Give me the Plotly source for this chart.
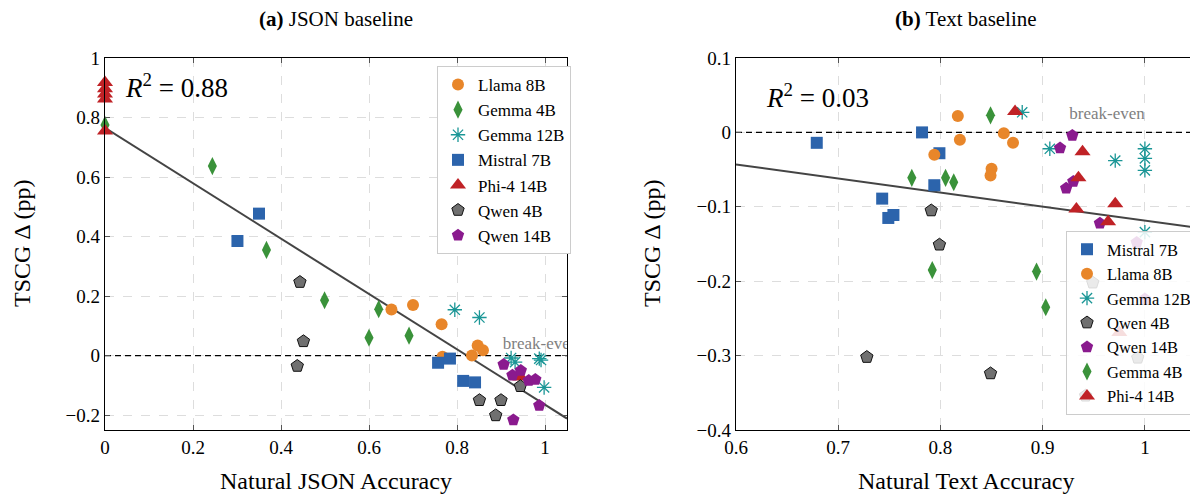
import plotly.graph_objects as go
import numpy as np

# ---------------- data: (a) JSON baseline ----------------
a_llama_x = [0.651, 0.700, 0.765, 0.847, 0.859, 0.834, 0.767]
a_llama_y = [0.155, 0.170, 0.105, 0.034, 0.018, 0.000, -0.004]
a_gemma4_x = [0.0, 0.244, 0.367, 0.499, 0.622, 0.600, 0.691]
a_gemma4_y = [0.775, 0.637, 0.355, 0.186, 0.156, 0.060, 0.067]
a_gemma12_x = [0.795, 0.851, 0.923, 0.932, 0.987, 0.991, 0.998]
a_gemma12_y = [0.154, 0.128, -0.008, -0.022, -0.010, -0.015, -0.107]
a_mistral_x = [0.301, 0.350, 0.757, 0.784, 0.814, 0.841]
a_mistral_y = [0.385, 0.477, -0.024, -0.010, -0.085, -0.090]
a_phi_x = [0.0, 0.0, 0.0, 0.0, 0.0, 0.944]
a_phi_y = [0.918, 0.897, 0.879, 0.862, 0.755, -0.072]
a_qwen4_x = [0.443, 0.451, 0.437, 0.944, 0.851, 0.900, 0.888]
a_qwen4_y = [0.247, 0.048, -0.035, -0.103, -0.150, -0.150, -0.201]
a_qwen14_x = [0.906, 0.926, 0.945, 0.963, 0.978, 0.987, 0.928]
a_qwen14_y = [-0.030, -0.066, -0.050, -0.084, -0.080, -0.168, -0.216]
a_fit = (0.765, -0.93)   # intercept, slope
a_r2 = "0.88"

# ---------------- data: (b) Text baseline ----------------
b_mistral_x = [0.679, 0.782, 0.799, 0.794, 0.743, 0.749, 0.754]
b_mistral_y = [-0.014, 0.000, -0.028, -0.071, -0.089, -0.115, -0.111]
b_llama_x = [0.794, 0.817, 0.819, 0.862, 0.850, 0.849, 0.871]
b_llama_y = [-0.030, 0.022, -0.010, -0.001, -0.049, -0.058, -0.014]
b_gemma12_x = [0.880, 0.907, 0.971, 1.0, 1.0, 1.0, 1.0]
b_gemma12_y = [0.027, -0.022, -0.038, -0.022, -0.035, -0.051, -0.134]
b_qwen4_x = [0.791, 0.799, 0.728, 0.849, 0.949, 0.993, 0.942]
b_qwen4_y = [-0.105, -0.151, -0.302, -0.324, -0.202, -0.303, -0.354]
b_qwen14_x = [0.929, 0.917, 0.930, 0.923, 0.956, 0.992, 1.0]
b_qwen14_y = [-0.004, -0.021, -0.066, -0.075, -0.122, -0.148, -0.224]
b_gemma4_x = [0.849, 0.772, 0.805, 0.813, 0.792, 0.894, 0.903]
b_gemma4_y = [0.023, -0.061, -0.061, -0.067, -0.185, -0.187, -0.235]
b_phi_x = [0.873, 0.939, 0.935, 0.933, 0.971, 0.964, 0.975]
b_phi_y = [0.028, -0.026, -0.061, -0.103, -0.096, -0.120, -0.269]
b_fit = (-0.043, -0.189)  # value at x=0.6, slope
b_r2 = "0.03"

# ---------------- styles ----------------
FONT = "Liberation Serif"
STY = {
    "Llama 8B": dict(symbol="circle", color="#E8862A", size=12, line=dict(width=0)),
    "Gemma 4B": dict(symbol="diamond-tall", color="#3A923A", size=13, line=dict(width=0)),
    "Gemma 12B": dict(symbol="asterisk-open", color="#1A9696", size=12, line=dict(width=1.3, color="#1A9696")),
    "Mistral 7B": dict(symbol="square", color="#2C64AC", size=12, line=dict(width=0)),
    "Phi-4 14B": dict(symbol="triangle-up", color="#C02226", size=14, line=dict(width=0)),
    "Qwen 4B": dict(symbol="pentagon", color="#707070", size=13, line=dict(width=1, color="#111111")),
    "Qwen 14B": dict(symbol="pentagon", color="#8A1A8E", size=13, line=dict(width=0)),
}

fig = go.Figure()

def add(name, xs, ys, xa, ya, legend):
    fig.add_trace(go.Scatter(
        x=xs, y=ys, mode="markers", name=name, marker=STY[name],
        xaxis=xa, yaxis=ya, legend=legend, cliponaxis=False))

# fit lines + break-even reference lines (drawn first)
ax = np.array([0.0, 1.05])
fig.add_trace(go.Scatter(x=ax, y=a_fit[0] + a_fit[1] * ax, mode="lines",
                         line=dict(color="#444444", width=2), showlegend=False,
                         xaxis="x", yaxis="y", hoverinfo="skip"))
bx = np.array([0.6, 1.05])
fig.add_trace(go.Scatter(x=bx, y=b_fit[0] + b_fit[1] * (bx - 0.6), mode="lines",
                         line=dict(color="#444444", width=2), showlegend=False,
                         xaxis="x2", yaxis="y2", hoverinfo="skip"))
fig.add_trace(go.Scatter(x=[0.0, 1.05], y=[0, 0], mode="lines",
                         line=dict(color="black", width=1.3, dash="6px,4px"), showlegend=False,
                         xaxis="x", yaxis="y", hoverinfo="skip"))
fig.add_trace(go.Scatter(x=[0.6, 1.05], y=[0, 0], mode="lines",
                         line=dict(color="black", width=1.3, dash="6px,4px"), showlegend=False,
                         xaxis="x2", yaxis="y2", hoverinfo="skip"))
# break-even labels (clipped by the plot area)
fig.add_trace(go.Scatter(x=[0.904], y=[0.037], mode="text", text=["break-even"],
                         textposition="middle right", cliponaxis=True,
                         textfont=dict(family=FONT, size=17, color="#808080"),
                         showlegend=False, xaxis="x", yaxis="y", hoverinfo="skip"))
fig.add_trace(go.Scatter(x=[0.963], y=[0.024], mode="text", text=["break-even"],
                         textposition="middle center", cliponaxis=True,
                         textfont=dict(family=FONT, size=17, color="#808080"),
                         showlegend=False, xaxis="x2", yaxis="y2", hoverinfo="skip"))

# (a) markers
add("Llama 8B", a_llama_x, a_llama_y, "x", "y", "legend")
add("Gemma 4B", a_gemma4_x, a_gemma4_y, "x", "y", "legend")
add("Gemma 12B", a_gemma12_x, a_gemma12_y, "x", "y", "legend")
add("Mistral 7B", a_mistral_x, a_mistral_y, "x", "y", "legend")
add("Phi-4 14B", a_phi_x, a_phi_y, "x", "y", "legend")
add("Qwen 4B", a_qwen4_x, a_qwen4_y, "x", "y", "legend")
add("Qwen 14B", a_qwen14_x, a_qwen14_y, "x", "y", "legend")

# (b) markers
add("Mistral 7B", b_mistral_x, b_mistral_y, "x2", "y2", "legend2")
add("Llama 8B", b_llama_x, b_llama_y, "x2", "y2", "legend2")
add("Gemma 12B", b_gemma12_x, b_gemma12_y, "x2", "y2", "legend2")
add("Qwen 4B", b_qwen4_x, b_qwen4_y, "x2", "y2", "legend2")
add("Qwen 14B", b_qwen14_x, b_qwen14_y, "x2", "y2", "legend2")
add("Gemma 4B", b_gemma4_x, b_gemma4_y, "x2", "y2", "legend2")
add("Phi-4 14B", b_phi_x, b_phi_y, "x2", "y2", "legend2")

def fmt(v):
    s = ("%g" % v)
    return s.replace("-", "\u2212")

a_xt = [0, 0.2, 0.4, 0.6, 0.8, 1.0]
a_yt = [-0.2, 0, 0.2, 0.4, 0.6, 0.8, 1.0]
b_xt = [0.6, 0.7, 0.8, 0.9, 1.0]
b_yt = [-0.4, -0.3, -0.2, -0.1, 0, 0.1]

# page offset (body margin) -> figure coordinates
OFF = 8
W, H = 1198 - OFF, 497 - OFF

def px(x):
    return (x - OFF) / W

def py(y):
    return 1 - (y - OFF) / H

ydom = [py(430), py(58)]
axis_common = dict(showline=True, linecolor="black", linewidth=1.3, mirror="ticks",
                   ticks="inside", ticklen=5, tickcolor="#555555", tickwidth=1,
                   showgrid=True, gridcolor="#DDDDDD", griddash="dash", gridwidth=1,
                   zeroline=False, automargin=False,
                   tickfont=dict(family=FONT, size=19, color="black"))

ann = dict(xref="paper", yref="paper", showarrow=False, yanchor="middle", xanchor="center")
fig.update_layout(
    width=W, height=H, margin=dict(l=0, r=0, t=0, b=0, autoexpand=False),
    paper_bgcolor="white", plot_bgcolor="white",
    font=dict(family=FONT, color="black"),
    xaxis=dict(domain=[px(105), px(567)], range=[0, 1.05], anchor="y",
               tickvals=a_xt, ticktext=[fmt(v) for v in a_xt], **axis_common),
    yaxis=dict(domain=ydom, range=[-0.25, 1.0], anchor="x",
               tickvals=a_yt, ticktext=[fmt(v) for v in a_yt], **axis_common),
    xaxis2=dict(domain=[px(736), px(1196)], range=[0.6, 1.05], anchor="y2",
                tickvals=b_xt, ticktext=[fmt(v) for v in b_xt], **axis_common),
    yaxis2=dict(domain=ydom, range=[-0.4, 0.1], anchor="x2",
                tickvals=b_yt, ticktext=[fmt(v) for v in b_yt], **axis_common),
    legend=dict(x=px(437), y=py(66), xanchor="left", yanchor="top",
                bgcolor="white", bordercolor="#CCCCCC", borderwidth=1,
                font=dict(family=FONT, size=17), itemwidth=30, tracegroupgap=0),
    legend2=dict(x=px(1066), y=py(231), xanchor="left", yanchor="top",
                 bgcolor="rgba(255,255,255,0.85)", bordercolor="#CCCCCC", borderwidth=1,
                 font=dict(family=FONT, size=16.5), itemwidth=30, tracegroupgap=0),
    showlegend=True,
    annotations=[
        dict(text="<b>(a)</b> JSON baseline", x=px(336), y=py(19), font=dict(family=FONT, size=21), **ann),
        dict(text="<b>(b)</b> Text baseline", x=px(966), y=py(19), font=dict(family=FONT, size=21), **ann),
        dict(text="Natural JSON Accuracy", x=px(336), y=py(481), font=dict(family=FONT, size=24), **ann),
        dict(text="Natural Text Accuracy", x=px(966), y=py(481), font=dict(family=FONT, size=24), **ann),
        dict(text="TSCG \u0394 (pp)", x=px(22), y=py(244), textangle=-90, font=dict(family=FONT, size=24), **ann),
        dict(text="TSCG \u0394 (pp)", x=px(652), y=py(244), textangle=-90, font=dict(family=FONT, size=24), **ann),
        dict(text="<i>R</i><sup>2</sup> = " + a_r2, x=px(176), y=py(86), font=dict(family=FONT, size=27), **ann),
        dict(text="<i>R</i><sup>2</sup> = " + b_r2, x=px(817), y=py(96), font=dict(family=FONT, size=27), **ann),
    ],
)

fig.write_html("out.html")
